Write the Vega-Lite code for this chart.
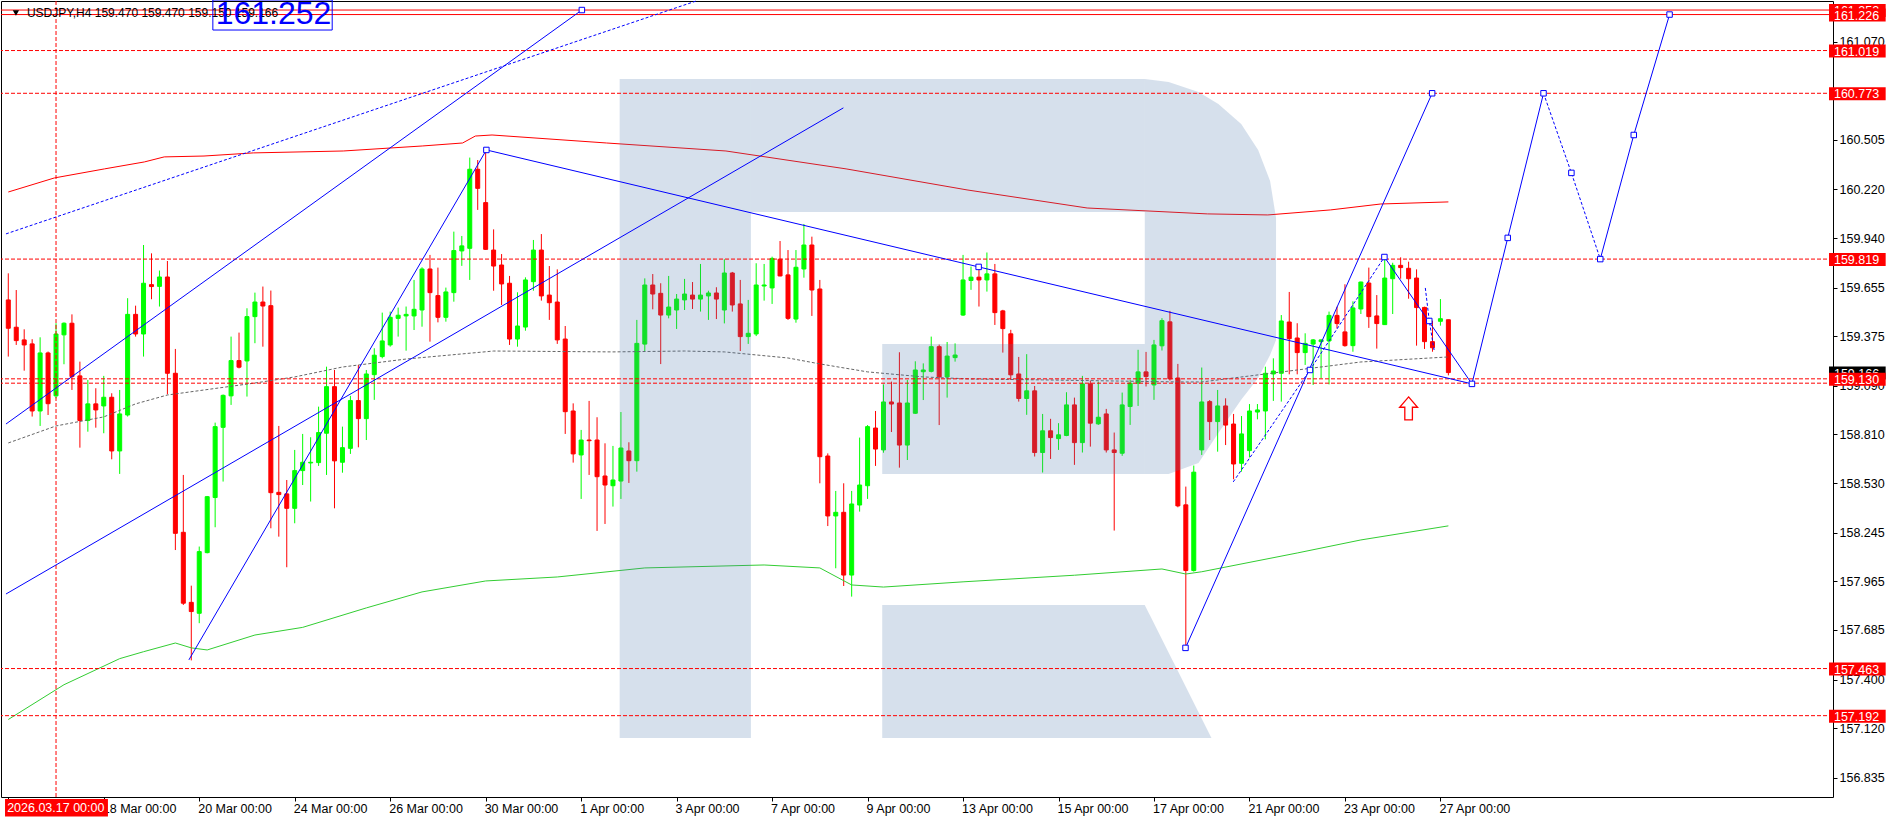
{
"$schema": "https://vega.github.io/schema/vega-lite/v6.json",
"width": 1832, "height": 796,
"autosize": "none",
"padding": {"left": 1, "top": 1, "right": 63, "bottom": 23},
"background": "#ffffff",
"config": {"view": {"stroke": "#000000", "strokeWidth": 1}, "font": "Liberation Sans", "text": {"font": "Liberation Sans"}},
"datasets": {
"candles": [
{"i":0,"o":159.584,"h":159.737,"l":159.258,"c":159.421},
{"i":1,"o":159.427,"h":159.641,"l":159.325,"c":159.350},
{"i":2,"o":159.354,"h":159.415,"l":159.177,"c":159.325},
{"i":3,"o":159.331,"h":159.358,"l":158.913,"c":158.945},
{"i":4,"o":158.945,"h":159.369,"l":158.859,"c":159.279},
{"i":5,"o":159.279,"h":159.287,"l":158.922,"c":158.987},
{"i":6,"o":159.032,"h":159.450,"l":159.018,"c":159.388},
{"i":7,"o":159.383,"h":159.455,"l":159.214,"c":159.450},
{"i":8,"o":159.450,"h":159.501,"l":159.066,"c":159.143},
{"i":9,"o":159.147,"h":159.229,"l":158.734,"c":158.890},
{"i":10,"o":158.890,"h":159.124,"l":158.826,"c":158.986},
{"i":11,"o":158.986,"h":159.076,"l":158.849,"c":158.951},
{"i":12,"o":158.974,"h":159.147,"l":158.817,"c":159.024},
{"i":13,"o":159.024,"h":159.047,"l":158.667,"c":158.715},
{"i":14,"o":158.715,"h":159.066,"l":158.583,"c":158.928},
{"i":15,"o":158.922,"h":159.594,"l":158.913,"c":159.501},
{"i":16,"o":159.501,"h":159.551,"l":159.373,"c":159.388},
{"i":17,"o":159.388,"h":159.900,"l":159.258,"c":159.680},
{"i":18,"o":159.672,"h":159.852,"l":159.588,"c":159.661},
{"i":19,"o":159.662,"h":159.753,"l":159.546,"c":159.716},
{"i":20,"o":159.716,"h":159.808,"l":159.041,"c":159.162},
{"i":21,"o":159.162,"h":159.302,"l":158.145,"c":158.241},
{"i":22,"o":158.247,"h":158.577,"l":157.829,"c":157.839},
{"i":23,"o":157.844,"h":157.940,"l":157.510,"c":157.791},
{"i":24,"o":157.781,"h":158.165,"l":157.724,"c":158.136},
{"i":25,"o":158.130,"h":158.456,"l":158.126,"c":158.452},
{"i":26,"o":158.447,"h":158.878,"l":158.276,"c":158.855},
{"i":27,"o":158.851,"h":159.040,"l":158.539,"c":159.035},
{"i":28,"o":159.032,"h":159.373,"l":158.980,"c":159.235},
{"i":29,"o":159.235,"h":159.396,"l":159.190,"c":159.197},
{"i":30,"o":159.233,"h":159.536,"l":159.028,"c":159.488},
{"i":31,"o":159.488,"h":159.626,"l":159.335,"c":159.572},
{"i":32,"o":159.572,"h":159.661,"l":159.315,"c":159.549},
{"i":33,"o":159.551,"h":159.638,"l":158.270,"c":158.475},
{"i":34,"o":158.477,"h":158.859,"l":158.222,"c":158.464},
{"i":35,"o":158.468,"h":158.548,"l":158.046,"c":158.385},
{"i":36,"o":158.385,"h":158.721,"l":158.299,"c":158.602},
{"i":37,"o":158.602,"h":158.813,"l":158.519,"c":158.650},
{"i":38,"o":158.646,"h":158.794,"l":158.424,"c":158.650},
{"i":39,"o":158.648,"h":158.970,"l":158.629,"c":158.821},
{"i":40,"o":158.817,"h":159.200,"l":158.577,"c":159.085},
{"i":41,"o":159.085,"h":159.181,"l":158.385,"c":158.658},
{"i":42,"o":158.650,"h":158.855,"l":158.590,"c":158.734},
{"i":43,"o":158.730,"h":159.032,"l":158.698,"c":159.005},
{"i":44,"o":159.005,"h":159.210,"l":158.736,"c":158.901},
{"i":45,"o":158.901,"h":159.181,"l":158.778,"c":159.158},
{"i":46,"o":159.154,"h":159.306,"l":159.009,"c":159.266},
{"i":47,"o":159.258,"h":159.511,"l":159.248,"c":159.348},
{"i":48,"o":159.325,"h":159.517,"l":159.315,"c":159.484},
{"i":49,"o":159.478,"h":159.540,"l":159.373,"c":159.496},
{"i":50,"o":159.492,"h":159.546,"l":159.292,"c":159.501},
{"i":51,"o":159.492,"h":159.699,"l":159.411,"c":159.530},
{"i":52,"o":159.526,"h":159.772,"l":159.430,"c":159.762},
{"i":53,"o":159.762,"h":159.843,"l":159.344,"c":159.626},
{"i":54,"o":159.609,"h":159.770,"l":159.455,"c":159.484},
{"i":55,"o":159.484,"h":159.655,"l":159.459,"c":159.630},
{"i":56,"o":159.626,"h":159.977,"l":159.574,"c":159.868},
{"i":57,"o":159.866,"h":159.952,"l":159.780,"c":159.895},
{"i":58,"o":159.881,"h":160.403,"l":159.699,"c":160.336},
{"i":59,"o":160.336,"h":160.389,"l":160.102,"c":160.226},
{"i":60,"o":160.144,"h":160.447,"l":159.872,"c":159.875},
{"i":61,"o":159.871,"h":159.990,"l":159.637,"c":159.779},
{"i":62,"o":159.785,"h":159.848,"l":159.555,"c":159.676},
{"i":63,"o":159.680,"h":159.722,"l":159.325,"c":159.359},
{"i":64,"o":159.359,"h":159.628,"l":159.315,"c":159.434},
{"i":65,"o":159.428,"h":159.714,"l":159.407,"c":159.699},
{"i":66,"o":159.689,"h":159.929,"l":159.637,"c":159.871},
{"i":67,"o":159.871,"h":159.963,"l":159.580,"c":159.607},
{"i":68,"o":159.612,"h":159.779,"l":159.469,"c":159.568},
{"i":69,"o":159.572,"h":159.760,"l":159.331,"c":159.354},
{"i":70,"o":159.359,"h":159.434,"l":158.813,"c":158.941},
{"i":71,"o":158.945,"h":158.989,"l":158.648,"c":158.698},
{"i":72,"o":158.692,"h":158.836,"l":158.439,"c":158.778},
{"i":73,"o":158.778,"h":159.003,"l":158.577,"c":158.774},
{"i":74,"o":158.778,"h":158.909,"l":158.255,"c":158.567},
{"i":75,"o":158.571,"h":158.759,"l":158.295,"c":158.519},
{"i":76,"o":158.515,"h":158.744,"l":158.395,"c":158.548},
{"i":77,"o":158.542,"h":158.939,"l":158.439,"c":158.732},
{"i":78,"o":158.715,"h":158.765,"l":158.531,"c":158.659},
{"i":79,"o":158.659,"h":159.469,"l":158.596,"c":159.334},
{"i":80,"o":159.330,"h":159.708,"l":159.290,"c":159.670},
{"i":81,"o":159.670,"h":159.733,"l":159.530,"c":159.618},
{"i":82,"o":159.622,"h":159.680,"l":159.215,"c":159.497},
{"i":83,"o":159.497,"h":159.722,"l":159.478,"c":159.543},
{"i":84,"o":159.526,"h":159.618,"l":159.417,"c":159.589},
{"i":85,"o":159.584,"h":159.705,"l":159.526,"c":159.618},
{"i":86,"o":159.612,"h":159.687,"l":159.532,"c":159.589},
{"i":87,"o":159.589,"h":159.791,"l":159.517,"c":159.612},
{"i":88,"o":159.607,"h":159.637,"l":159.469,"c":159.624},
{"i":89,"o":159.624,"h":159.657,"l":159.474,"c":159.589},
{"i":90,"o":159.526,"h":159.818,"l":159.449,"c":159.739},
{"i":91,"o":159.739,"h":159.745,"l":159.517,"c":159.555},
{"i":92,"o":159.561,"h":159.699,"l":159.290,"c":159.373},
{"i":93,"o":159.373,"h":159.584,"l":159.331,"c":159.392},
{"i":94,"o":159.388,"h":159.795,"l":159.376,"c":159.670},
{"i":95,"o":159.664,"h":159.791,"l":159.580,"c":159.670},
{"i":96,"o":159.653,"h":159.833,"l":159.561,"c":159.823},
{"i":97,"o":159.818,"h":159.923,"l":159.720,"c":159.722},
{"i":98,"o":159.728,"h":159.871,"l":159.469,"c":159.478},
{"i":99,"o":159.474,"h":159.871,"l":159.453,"c":159.772},
{"i":100,"o":159.762,"h":160.021,"l":159.712,"c":159.900},
{"i":101,"o":159.900,"h":159.948,"l":159.492,"c":159.641},
{"i":102,"o":159.647,"h":159.699,"l":158.529,"c":158.682},
{"i":103,"o":158.686,"h":158.701,"l":158.283,"c":158.341},
{"i":104,"o":158.341,"h":158.485,"l":158.040,"c":158.362},
{"i":105,"o":158.362,"h":158.529,"l":157.938,"c":158.001},
{"i":106,"o":158.001,"h":158.485,"l":157.877,"c":158.410},
{"i":107,"o":158.404,"h":158.792,"l":158.366,"c":158.519},
{"i":108,"o":158.515,"h":158.864,"l":158.439,"c":158.855},
{"i":109,"o":158.847,"h":158.945,"l":158.629,"c":158.726},
{"i":110,"o":158.721,"h":159.098,"l":158.705,"c":158.997},
{"i":111,"o":158.997,"h":159.114,"l":158.824,"c":158.985},
{"i":112,"o":158.991,"h":159.283,"l":158.619,"c":158.749},
{"i":113,"o":158.749,"h":159.123,"l":158.663,"c":158.991},
{"i":114,"o":158.932,"h":159.231,"l":158.928,"c":159.181},
{"i":115,"o":159.171,"h":159.219,"l":159.008,"c":159.181},
{"i":116,"o":159.173,"h":159.373,"l":159.167,"c":159.315},
{"i":117,"o":159.315,"h":159.327,"l":158.864,"c":159.141},
{"i":118,"o":159.141,"h":159.342,"l":159.022,"c":159.261},
{"i":119,"o":159.252,"h":159.334,"l":159.229,"c":159.267},
{"i":120,"o":159.497,"h":159.843,"l":159.492,"c":159.699},
{"i":121,"o":159.696,"h":159.776,"l":159.642,"c":159.715},
{"i":122,"o":159.715,"h":159.776,"l":159.546,"c":159.699},
{"i":123,"o":159.699,"h":159.857,"l":159.632,"c":159.734},
{"i":124,"o":159.734,"h":159.791,"l":159.440,"c":159.511},
{"i":125,"o":159.521,"h":159.527,"l":159.281,"c":159.419},
{"i":126,"o":159.389,"h":159.412,"l":159.124,"c":159.153},
{"i":127,"o":159.158,"h":159.256,"l":158.999,"c":159.017},
{"i":128,"o":159.017,"h":159.272,"l":158.923,"c":159.061},
{"i":129,"o":159.061,"h":159.089,"l":158.683,"c":158.706},
{"i":130,"o":158.706,"h":158.928,"l":158.591,"c":158.831},
{"i":131,"o":158.831,"h":158.900,"l":158.669,"c":158.792},
{"i":132,"o":158.786,"h":158.875,"l":158.721,"c":158.808},
{"i":133,"o":158.804,"h":159.053,"l":158.800,"c":158.980},
{"i":134,"o":158.980,"h":159.022,"l":158.635,"c":158.763},
{"i":135,"o":158.763,"h":159.147,"l":158.706,"c":159.101},
{"i":136,"o":159.101,"h":159.120,"l":158.740,"c":158.875},
{"i":137,"o":158.871,"h":159.114,"l":158.865,"c":158.909},
{"i":138,"o":158.928,"h":158.957,"l":158.706,"c":158.721},
{"i":139,"o":158.721,"h":158.821,"l":158.257,"c":158.706},
{"i":140,"o":158.702,"h":159.051,"l":158.687,"c":158.980},
{"i":141,"o":158.971,"h":159.124,"l":158.865,"c":159.105},
{"i":142,"o":159.105,"h":159.297,"l":158.974,"c":159.170},
{"i":143,"o":159.170,"h":159.285,"l":159.086,"c":159.143},
{"i":144,"o":159.095,"h":159.354,"l":159.009,"c":159.325},
{"i":145,"o":159.320,"h":159.479,"l":159.293,"c":159.465},
{"i":146,"o":159.458,"h":159.521,"l":159.120,"c":159.130},
{"i":147,"o":159.135,"h":159.216,"l":158.391,"c":158.399},
{"i":148,"o":158.405,"h":158.510,"l":157.580,"c":158.027},
{"i":149,"o":158.027,"h":158.631,"l":158.021,"c":158.593},
{"i":150,"o":158.721,"h":159.195,"l":158.692,"c":158.997},
{"i":151,"o":158.999,"h":159.008,"l":158.778,"c":158.884},
{"i":152,"o":158.884,"h":159.066,"l":158.711,"c":158.974},
{"i":153,"o":158.974,"h":159.018,"l":158.749,"c":158.864},
{"i":154,"o":158.870,"h":158.928,"l":158.552,"c":158.640},
{"i":155,"o":158.644,"h":158.916,"l":158.596,"c":158.813},
{"i":156,"o":158.717,"h":158.985,"l":158.678,"c":158.945},
{"i":157,"o":158.939,"h":158.985,"l":158.897,"c":158.951},
{"i":158,"o":158.945,"h":159.200,"l":158.782,"c":159.162},
{"i":159,"o":159.158,"h":159.248,"l":159.003,"c":159.175},
{"i":160,"o":159.162,"h":159.497,"l":158.999,"c":159.463},
{"i":161,"o":159.457,"h":159.630,"l":159.156,"c":159.361},
{"i":162,"o":159.365,"h":159.450,"l":159.156,"c":159.281},
{"i":163,"o":159.281,"h":159.392,"l":159.210,"c":159.334},
{"i":164,"o":159.330,"h":159.359,"l":159.095,"c":159.354},
{"i":165,"o":159.344,"h":159.357,"l":159.133,"c":159.354},
{"i":166,"o":159.348,"h":159.517,"l":159.098,"c":159.495},
{"i":167,"o":159.495,"h":159.545,"l":159.421,"c":159.448},
{"i":168,"o":159.400,"h":159.674,"l":159.315,"c":159.321},
{"i":169,"o":159.321,"h":159.576,"l":159.286,"c":159.538},
{"i":170,"o":159.532,"h":159.689,"l":159.503,"c":159.687},
{"i":171,"o":159.681,"h":159.770,"l":159.423,"c":159.488},
{"i":172,"o":159.492,"h":159.612,"l":159.304,"c":159.448},
{"i":173,"o":159.442,"h":159.829,"l":159.440,"c":159.710},
{"i":174,"o":159.706,"h":159.798,"l":159.503,"c":159.783},
{"i":175,"o":159.783,"h":159.829,"l":159.706,"c":159.770},
{"i":176,"o":159.766,"h":159.804,"l":159.591,"c":159.706},
{"i":177,"o":159.710,"h":159.760,"l":159.321,"c":159.540},
{"i":178,"o":159.541,"h":159.545,"l":159.302,"c":159.344},
{"i":179,"o":159.344,"h":159.465,"l":159.286,"c":159.309},
{"i":180,"o":159.461,"h":159.589,"l":159.436,"c":159.476},
{"i":181,"o":159.470,"h":159.470,"l":159.150,"c":159.166}
],
"maRed": [
{"i":0,"p":160.205},{"i":5.8,"p":160.286},{"i":12.1,"p":160.338},{"i":17.1,"p":160.378},{"i":19.6,"p":160.407},{"i":24.6,"p":160.412},{"i":30.8,"p":160.430},{"i":42.1,"p":160.441},{"i":52.1,"p":160.470},{"i":57.1,"p":160.487},{"i":58.7,"p":160.527},{"i":60.8,"p":160.533},{"i":75.2,"p":160.487},{"i":90.2,"p":160.441},{"i":105.3,"p":160.338},{"i":120.5,"p":160.217},{"i":135.6,"p":160.113},{"i":150.7,"p":160.079},{"i":158.3,"p":160.073},{"i":166.2,"p":160.102},{"i":172.5,"p":160.136},{"i":181,"p":160.148}
],
"maGreen": [
{"i":0,"p":157.17},{"i":7,"p":157.37},{"i":14,"p":157.52},{"i":17,"p":157.56},{"i":21,"p":157.61},{"i":23,"p":157.582},{"i":25,"p":157.57},{"i":31,"p":157.656},{"i":37,"p":157.70},{"i":45,"p":157.812},{"i":52,"p":157.904},{"i":60,"p":157.967},{"i":69,"p":157.990},{"i":80,"p":158.042},{"i":95,"p":158.059},{"i":102,"p":158.042},{"i":106,"p":157.944},{"i":110,"p":157.932},{"i":120,"p":157.962},{"i":134,"p":158.00},{"i":145,"p":158.036},{"i":148,"p":158.007},{"i":150,"p":158.02},{"i":162,"p":158.128},{"i":170,"p":158.203},{"i":181,"p":158.284}
],
"maGray": [
{"i":0,"p":158.761},{"i":6,"p":158.859},{"i":12,"p":158.911},{"i":16,"p":158.986},{"i":20,"p":159.037},{"i":31,"p":159.106},{"i":36,"p":159.141},{"i":42,"p":159.198},{"i":50,"p":159.244},{"i":61,"p":159.290},{"i":76,"p":159.285},{"i":85,"p":159.290},{"i":90,"p":159.285},{"i":98,"p":159.250},{"i":102,"p":159.216},{"i":108,"p":159.170},{"i":115,"p":159.141},{"i":121,"p":159.129},{"i":130,"p":159.124},{"i":147,"p":159.112},{"i":150,"p":159.112},{"i":158,"p":159.158},{"i":162,"p":159.181},{"i":170,"p":159.227},{"i":181,"p":159.256}
],
"logoRects": [
{"i":76.84,"i2":93.34,"p":160.855,"p2":157.064},
{"i":93.34,"i2":142.84,"p":160.855,"p2":160.090},
{"i":109.84,"i2":142.84,"p":159.331,"p2":158.583}
],
"logoAreas": [
{"part":"bowl","i":142.84,"p":160.855,"p2":158.583},
{"part":"bowl","i":145.84,"p":160.838,"p2":158.583},
{"part":"bowl","i":149.59,"p":160.781,"p2":158.646},
{"part":"bowl","i":152.09,"p":160.712,"p2":158.819},
{"part":"bowl","i":154.96,"p":160.597,"p2":159.009},
{"part":"bowl","i":157.09,"p":160.447,"p2":159.135},
{"part":"bowl","i":158.59,"p":160.269,"p2":159.267},
{"part":"bowl","i":159.34,"p":160.056,"p2":159.354},
{"part":"leg","i":109.84,"p":157.829,"p2":157.064},
{"part":"leg","i":142.84,"p":157.829,"p2":157.064},
{"part":"leg","i":151.22,"p":157.064,"p2":157.064}
],
"hSolid": [{"p":161.252},{"p":161.226}],
"hDash": [{"p":161.019},{"p":160.773},{"p":159.819},{"p":159.130},{"p":159.105},{"p":157.463},{"p":157.192}],
"blueSolid": [
{"id":"B","k":0,"i":-0.29,"p":158.870},{"id":"B","k":1,"i":72.09,"p":161.252},
{"id":"C","k":0,"i":-0.29,"p":157.892},{"id":"C","k":1,"i":104.96,"p":160.689},
{"id":"D","k":0,"i":22.7,"p":157.513},{"id":"D","k":1,"i":60.09,"p":160.447},{"id":"D","k":2,"i":121.96,"p":159.774},{"id":"D","k":3,"i":183.96,"p":159.101},
{"id":"E","k":0,"i":147.96,"p":157.582},{"id":"E","k":1,"i":178.96,"p":160.773},
{"id":"G","k":0,"i":172.96,"p":159.831},{"id":"G","k":1,"i":183.96,"p":159.101},
{"id":"K1","k":0,"i":183.96,"p":159.101},{"id":"K1","k":1,"i":188.46,"p":159.941},{"id":"K1","k":2,"i":192.96,"p":160.773},
{"id":"K3","k":0,"i":200.09,"p":159.819},{"id":"K3","k":1,"i":204.3,"p":160.533},{"id":"K3","k":2,"i":208.8,"p":161.226}
],
"blueDashed": [
{"id":"A","k":0,"i":-0.29,"p":159.964},{"id":"A","k":1,"i":86.46,"p":161.304},
{"id":"F","k":0,"i":153.96,"p":158.537},{"id":"F","k":1,"i":163.6,"p":159.181},{"id":"F","k":2,"i":172.96,"p":159.831},
{"id":"H","k":0,"i":178.1,"p":159.653},{"id":"H","k":1,"i":178.6,"p":159.463},{"id":"H","k":2,"i":179.2,"p":159.296},
{"id":"K2","k":0,"i":192.96,"p":160.773},{"id":"K2","k":1,"i":196.46,"p":160.315},{"id":"K2","k":2,"i":200.09,"p":159.819}
],
"squares": [
{"i":72.09,"p":161.252},{"i":60.09,"p":160.447},{"i":121.96,"p":159.774},{"i":183.96,"p":159.101},{"i":147.96,"p":157.582},{"i":178.96,"p":160.773},{"i":163.6,"p":159.181},{"i":172.96,"p":159.831},{"i":178.6,"p":159.463},{"i":188.46,"p":159.941},{"i":192.96,"p":160.773},{"i":196.46,"p":160.315},{"i":200.09,"p":159.819},{"i":204.3,"p":160.533},{"i":208.8,"p":161.226}
],
"tagBack": [{"p":161.252,"label":"161.252"}],
"tagBlack": [{"p":159.166,"label":"159.166"}],
"tagFront": [{"p":161.226,"label":"161.226"},{"p":161.019,"label":"161.019"},{"p":160.773,"label":"160.773"},{"p":159.819,"label":"159.819"},{"p":159.130,"label":"159.130"},{"p":157.463,"label":"157.463"},{"p":157.192,"label":"157.192"}]
},
"layer": [
{"data": {"name": "candles"}, "mark": {"type": "rule", "strokeWidth": 1},
 "encoding": {
  "x": {"field": "i", "type": "quantitative", "title": null, "scale": {"domain": [-0.2875, 228.7125], "nice": false, "zero": false},
   "axis": {"values": [0,12,24,36,48,60,72,84,96,108,120,132,144,156,168,180], "labelExpr": "['','18 Mar 00:00','20 Mar 00:00','24 Mar 00:00','26 Mar 00:00','30 Mar 00:00','1 Apr 00:00','3 Apr 00:00','7 Apr 00:00','9 Apr 00:00','13 Apr 00:00','15 Apr 00:00','17 Apr 00:00','21 Apr 00:00','23 Apr 00:00','27 Apr 00:00'][round(datum.value/12)]", "labelAlign": "left", "labelOffset": -1.5, "labelPadding": 1, "labelBaseline": "top", "labelFontSize": 12.5, "labelFont": "Liberation Sans", "labelColor": "#000000", "labelOverlap": false, "labelFlush": false, "labelBound": false, "tickSize": 4, "tickColor": "#000000", "domain": false, "grid": false, "title": null}},
  "y": {"field": "l", "type": "quantitative", "title": null, "scale": {"domain": [156.724, 161.304], "nice": false, "zero": false},
   "axis": {"orient": "right", "values": [161.07,160.505,160.22,159.94,159.655,159.375,159.09,158.81,158.53,158.245,157.965,157.685,157.4,157.12,156.835], "format": ".3f", "labelFontSize": 12.5, "labelFont": "Liberation Sans", "labelColor": "#000000", "labelPadding": 2, "labelBaseline": "middle", "labelOverlap": false, "labelFlush": false, "labelBound": false, "tickSize": 4, "tickColor": "#000000", "domain": false, "grid": false, "title": null}},
  "y2": {"field": "h"},
  "color": {"condition": {"test": "datum.c >= datum.o", "value": "#00ff00"}, "value": "#ff0000"}
 }},
{"data": {"name": "candles"}, "mark": {"type": "bar", "width": 4, "strokeWidth": 1},
 "encoding": {
  "x": {"field": "i", "type": "quantitative", "title": null, "scale": {"domain": [-0.2875, 228.7125], "nice": false, "zero": false}},
  "y": {"field": "o", "type": "quantitative", "title": null, "scale": {"domain": [156.724, 161.304], "nice": false, "zero": false}},
  "y2": {"field": "c"},
  "color": {"condition": {"test": "datum.c >= datum.o", "value": "#00ff00"}, "value": "#ff0000"},
  "stroke": {"condition": {"test": "datum.c >= datum.o", "value": "#00ff00"}, "value": "#ff0000"}
 }},
{"data": {"name": "maRed"}, "mark": {"type": "line", "color": "#ff0000", "strokeWidth": 1},
 "encoding": {
  "x": {"field": "i", "type": "quantitative", "title": null, "scale": {"domain": [-0.2875, 228.7125], "nice": false, "zero": false}},
  "y": {"field": "p", "type": "quantitative", "title": null, "scale": {"domain": [156.724, 161.304], "nice": false, "zero": false}}
 }},
{"data": {"name": "maGreen"}, "mark": {"type": "line", "color": "#32cd32", "strokeWidth": 1},
 "encoding": {
  "x": {"field": "i", "type": "quantitative", "title": null, "scale": {"domain": [-0.2875, 228.7125], "nice": false, "zero": false}},
  "y": {"field": "p", "type": "quantitative", "title": null, "scale": {"domain": [156.724, 161.304], "nice": false, "zero": false}}
 }},
{"data": {"name": "maGray"}, "mark": {"type": "line", "color": "#666666", "strokeWidth": 1, "strokeDash": [3, 2]},
 "encoding": {
  "x": {"field": "i", "type": "quantitative", "title": null, "scale": {"domain": [-0.2875, 228.7125], "nice": false, "zero": false}},
  "y": {"field": "p", "type": "quantitative", "title": null, "scale": {"domain": [156.724, 161.304], "nice": false, "zero": false}}
 }},
{"data": {"name": "logoRects"}, "mark": {"type": "rect", "fill": "#4e79ad", "fillOpacity": 0.23, "strokeWidth": 0},
 "encoding": {
  "x": {"field": "i", "type": "quantitative", "title": null, "scale": {"domain": [-0.2875, 228.7125], "nice": false, "zero": false}},
  "x2": {"field": "i2"},
  "y": {"field": "p", "type": "quantitative", "title": null, "scale": {"domain": [156.724, 161.304], "nice": false, "zero": false}},
  "y2": {"field": "p2"}
 }},
{"data": {"name": "logoAreas"}, "mark": {"type": "area", "fill": "#4e79ad", "fillOpacity": 0.23, "strokeWidth": 0},
 "encoding": {
  "x": {"field": "i", "type": "quantitative", "title": null, "scale": {"domain": [-0.2875, 228.7125], "nice": false, "zero": false}},
  "y": {"field": "p", "type": "quantitative", "title": null, "stack": null, "scale": {"domain": [156.724, 161.304], "nice": false, "zero": false}},
  "y2": {"field": "p2"},
  "detail": {"field": "part"}
 }},
{"data": {"name": "hSolid"}, "mark": {"type": "rule", "color": "#ff0000", "strokeWidth": 1},
 "encoding": {
  "y": {"field": "p", "type": "quantitative", "title": null, "scale": {"domain": [156.724, 161.304], "nice": false, "zero": false}}
 }},
{"data": {"name": "hDash"}, "mark": {"type": "rule", "color": "#ff0000", "strokeWidth": 1, "strokeDash": [4, 2]},
 "encoding": {
  "y": {"field": "p", "type": "quantitative", "title": null, "scale": {"domain": [156.724, 161.304], "nice": false, "zero": false}}
 }},
{"data": {"values": [{"i": 6}]}, "mark": {"type": "rule", "color": "#ff0000", "strokeWidth": 1, "strokeDash": [4, 2]},
 "encoding": {
  "x": {"field": "i", "type": "quantitative", "title": null, "scale": {"domain": [-0.2875, 228.7125], "nice": false, "zero": false}}
 }},
{"data": {"name": "blueSolid"}, "mark": {"type": "line", "color": "#0000ff", "strokeWidth": 1},
 "encoding": {
  "x": {"field": "i", "type": "quantitative", "title": null, "scale": {"domain": [-0.2875, 228.7125], "nice": false, "zero": false}},
  "y": {"field": "p", "type": "quantitative", "title": null, "scale": {"domain": [156.724, 161.304], "nice": false, "zero": false}},
  "detail": {"field": "id"},
  "order": {"field": "k"}
 }},
{"data": {"name": "blueDashed"}, "mark": {"type": "line", "color": "#0000ff", "strokeWidth": 1, "strokeDash": [3, 2]},
 "encoding": {
  "x": {"field": "i", "type": "quantitative", "title": null, "scale": {"domain": [-0.2875, 228.7125], "nice": false, "zero": false}},
  "y": {"field": "p", "type": "quantitative", "title": null, "scale": {"domain": [156.724, 161.304], "nice": false, "zero": false}},
  "detail": {"field": "id"},
  "order": {"field": "k"}
 }},
{"data": {"name": "squares"}, "mark": {"type": "point", "shape": "square", "size": 30, "filled": true, "fill": "#ffffff", "stroke": "#0000ff", "strokeWidth": 1, "opacity": 1},
 "encoding": {
  "x": {"field": "i", "type": "quantitative", "title": null, "scale": {"domain": [-0.2875, 228.7125], "nice": false, "zero": false}},
  "y": {"field": "p", "type": "quantitative", "title": null, "scale": {"domain": [156.724, 161.304], "nice": false, "zero": false}}
 }},
{"data": {"values": [{"k": 1}]}, "mark": {"type": "point", "shape": "M0,-1L0.78,-0.1L0.33,-0.1L0.33,1L-0.33,1L-0.33,-0.1L-0.78,-0.1Z", "size": 529, "filled": true, "fill": "#ffffff", "stroke": "#ff0000", "strokeWidth": 1.3, "opacity": 1},
 "encoding": {
  "x": {"datum": 176.0, "type": "quantitative", "scale": {"domain": [-0.2875, 228.7125], "nice": false, "zero": false}},
  "y": {"datum": 158.960, "type": "quantitative", "scale": {"domain": [156.724, 161.304], "nice": false, "zero": false}}
 }},
{"data": {"values": [{"t": "USDJPY,H4  159.470 159.470 159.150 159.166"}]}, "mark": {"type": "text", "align": "left", "baseline": "alphabetic", "fontSize": 12, "color": "#000000"},
 "encoding": {
  "x": {"datum": 2.34, "type": "quantitative", "scale": {"domain": [-0.2875, 228.7125], "nice": false, "zero": false}},
  "y": {"datum": 161.212, "type": "quantitative", "scale": {"domain": [156.724, 161.304], "nice": false, "zero": false}},
  "text": {"field": "t"}
 }},
{"data": {"values": [{"k": 1}]}, "mark": {"type": "point", "shape": "triangle-down", "size": 40, "filled": true, "color": "#000000", "opacity": 1},
 "encoding": {
  "x": {"datum": 0.96, "type": "quantitative", "scale": {"domain": [-0.2875, 228.7125], "nice": false, "zero": false}},
  "y": {"datum": 161.235, "type": "quantitative", "scale": {"domain": [156.724, 161.304], "nice": false, "zero": false}}
 }},
{"data": {"values": [{"t": "161.252"}]}, "mark": {"type": "text", "align": "center", "baseline": "alphabetic", "fontSize": 32, "color": "#0000ff"},
 "encoding": {
  "x": {"datum": 33.34, "type": "quantitative", "scale": {"domain": [-0.2875, 228.7125], "nice": false, "zero": false}},
  "y": {"datum": 161.172, "type": "quantitative", "scale": {"domain": [156.724, 161.304], "nice": false, "zero": false}},
  "text": {"field": "t"}
 }},
{"data": {"values": [{"k": 1}]}, "mark": {"type": "rect", "fill": null, "fillOpacity": 0, "stroke": "#0000ff", "strokeWidth": 1},
 "encoding": {
  "x": {"datum": 25.71, "type": "quantitative", "scale": {"domain": [-0.2875, 228.7125], "nice": false, "zero": false}},
  "x2": {"datum": 40.71},
  "y": {"datum": 161.31, "type": "quantitative", "scale": {"domain": [156.724, 161.304], "nice": false, "zero": false}},
  "y2": {"datum": 161.137}
 }},
{"data": {"name": "tagBack"}, "mark": {"type": "rect", "fill": "#ff0000", "yOffset": -6, "y2Offset": 7},
 "encoding": {
  "x": {"datum": 228.84, "type": "quantitative", "scale": {"domain": [-0.2875, 228.7125], "nice": false, "zero": false}},
  "x2": {"datum": 235.96},
  "y": {"field": "p", "type": "quantitative", "title": null, "scale": {"domain": [156.724, 161.304], "nice": false, "zero": false}},
  "y2": {"field": "p"}
 }},
{"data": {"name": "tagBack"}, "mark": {"type": "text", "align": "left", "baseline": "middle", "fontSize": 12.5, "color": "#ffffff", "dy": 1},
 "encoding": {
  "x": {"datum": 229.46, "type": "quantitative", "scale": {"domain": [-0.2875, 228.7125], "nice": false, "zero": false}},
  "y": {"field": "p", "type": "quantitative", "title": null, "scale": {"domain": [156.724, 161.304], "nice": false, "zero": false}},
  "text": {"field": "label"}
 }},
{"data": {"name": "tagBlack"}, "mark": {"type": "rect", "fill": "#000000", "yOffset": -6, "y2Offset": 7},
 "encoding": {
  "x": {"datum": 228.84, "type": "quantitative", "scale": {"domain": [-0.2875, 228.7125], "nice": false, "zero": false}},
  "x2": {"datum": 235.96},
  "y": {"field": "p", "type": "quantitative", "title": null, "scale": {"domain": [156.724, 161.304], "nice": false, "zero": false}},
  "y2": {"field": "p"}
 }},
{"data": {"name": "tagBlack"}, "mark": {"type": "text", "align": "left", "baseline": "middle", "fontSize": 12.5, "color": "#ffffff", "dy": 1},
 "encoding": {
  "x": {"datum": 229.46, "type": "quantitative", "scale": {"domain": [-0.2875, 228.7125], "nice": false, "zero": false}},
  "y": {"field": "p", "type": "quantitative", "title": null, "scale": {"domain": [156.724, 161.304], "nice": false, "zero": false}},
  "text": {"field": "label"}
 }},
{"data": {"name": "tagFront"}, "mark": {"type": "rect", "fill": "#ff0000", "yOffset": -6, "y2Offset": 7},
 "encoding": {
  "x": {"datum": 228.84, "type": "quantitative", "scale": {"domain": [-0.2875, 228.7125], "nice": false, "zero": false}},
  "x2": {"datum": 235.96},
  "y": {"field": "p", "type": "quantitative", "title": null, "scale": {"domain": [156.724, 161.304], "nice": false, "zero": false}},
  "y2": {"field": "p"}
 }},
{"data": {"name": "tagFront"}, "mark": {"type": "text", "align": "left", "baseline": "middle", "fontSize": 12.5, "color": "#ffffff", "dy": 1},
 "encoding": {
  "x": {"datum": 229.46, "type": "quantitative", "scale": {"domain": [-0.2875, 228.7125], "nice": false, "zero": false}},
  "y": {"field": "p", "type": "quantitative", "title": null, "scale": {"domain": [156.724, 161.304], "nice": false, "zero": false}},
  "text": {"field": "label"}
 }},
{"data": {"values": [{"t": "2026.03.17 00:00"}]}, "mark": {"type": "rect", "fill": "#ff0000"},
 "encoding": {
  "x": {"datum": -0.41, "type": "quantitative", "scale": {"domain": [-0.2875, 228.7125], "nice": false, "zero": false}},
  "x2": {"datum": 12.525},
  "y": {"datum": 156.713, "type": "quantitative", "scale": {"domain": [156.724, 161.304], "nice": false, "zero": false}},
  "y2": {"datum": 156.612}
 }},
{"data": {"values": [{"t": "2026.03.17 00:00"}]}, "mark": {"type": "text", "align": "center", "baseline": "middle", "fontSize": 12.5, "color": "#ffffff"},
 "encoding": {
  "x": {"datum": 5.97, "type": "quantitative", "scale": {"domain": [-0.2875, 228.7125], "nice": false, "zero": false}},
  "y": {"datum": 156.661, "type": "quantitative", "scale": {"domain": [156.724, 161.304], "nice": false, "zero": false}},
  "text": {"field": "t"}
 }}
]
}
